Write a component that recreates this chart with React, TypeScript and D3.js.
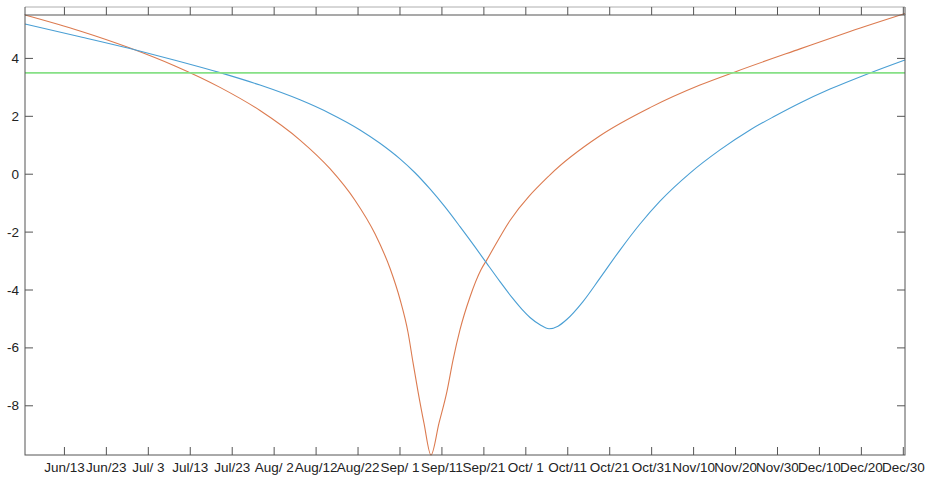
import * as d3 from "d3";

// days counted from Jun/13
const startDate = new Date(2019, 5, 13);
const xDomainDays = [-9.4, 200.4];
const yDomain = [-9.7, 5.5];

const tickLabels = [
  "Jun/13", "Jun/23", "Jul/ 3", "Jul/13", "Jul/23", "Aug/ 2", "Aug/12",
  "Aug/22", "Sep/ 1", "Sep/11", "Sep/21", "Oct/ 1", "Oct/11", "Oct/21",
  "Oct/31", "Nov/10", "Nov/20", "Nov/30", "Dec/10", "Dec/20", "Dec/30",
];
const yTicks = [4, 2, 0, -2, -4, -6, -8];

const blueDays = [
  -9.4, 3.71, 15.63, 26.36, 37.09, 46.63, 56.16, 63.31, 70.47, 75.23, 80.0,
  83.58, 87.15, 90.73, 94.31, 97.88, 100.74, 103.84, 106.94, 109.09, 111.0,
  113.38, 115.53, 117.67, 119.82, 123.63, 127.68, 132.45, 137.22, 141.99,
  149.14, 156.29, 163.45, 169.4, 175.37, 182.52, 192.06, 200.4,
];
const blueValues = [
  5.19, 4.75, 4.34, 3.94, 3.51, 3.08, 2.57, 2.1, 1.53, 1.07, 0.53,
  0.05, -0.51, -1.13, -1.81, -2.51, -3.09, -3.71, -4.3, -4.67, -4.95,
  -5.2, -5.34, -5.25, -5.01, -4.4, -3.59, -2.62, -1.72, -0.93,
  0.04, 0.84, 1.53, 2.01, 2.46, 2.94, 3.5, 3.95,
];

const orangeDays = [
  -9.4, 3.71, 15.63, 26.36, 37.09, 46.63, 56.16, 63.31, 69.27, 74.04, 77.62,
  80.0, 81.91, 83.1, 84.29, 85.72, 87.39, 89.3, 91.2, 92.64, 94.31, 96.69,
  99.31, 100.74, 106.23, 115.77, 127.68, 139.6, 151.52, 160.34, 175.37,
  187.29, 200.4,
];
const orangeValues = [
  5.5, 4.95, 4.36, 3.74, 3.0, 2.2, 1.18, 0.19, -0.9, -2.06, -3.25,
  -4.32, -5.46, -6.5, -7.5, -8.6, -9.7, -8.6, -7.5, -6.42, -5.37, -4.24,
  -3.3, -2.95, -1.6, -0.02, 1.33, 2.3, 3.08, 3.56, 4.33,
  4.93, 5.55,
];

const thresholdValue = 3.5;

const left = 25;
const right = 905;
const top = 15;
const bottom = 455;

const dayToDate = (d: number) => new Date(startDate.getTime() + d * 86400000);

export default function App() {
  const x = d3
    .scaleTime()
    .domain(xDomainDays.map(dayToDate))
    .range([left, right]);
  const y = d3.scaleLinear().domain(yDomain).range([bottom, top]);

  const line = d3
    .line<[number, number]>()
    .x((d) => x(dayToDate(d[0])))
    .y((d) => y(d[1]))
    .curve(d3.curveMonotoneX);

  const blue = line(blueDays.map((d, i) => [d, blueValues[i]]));
  const orange = line(orangeDays.map((d, i) => [d, orangeValues[i]]));

  const xTicks = tickLabels.map((lab, i) => ({
    lab,
    px: x(d3.timeDay.offset(startDate, i * 10)),
  }));

  const axisColor = "#555";
  const font = "'Liberation Sans', Arial, sans-serif";

  return (
    <svg
      width={926}
      height={482}
      style={{ position: "absolute", left: 0, top: 0, background: "#fff" }}
    >
      {/* plotted lines */}
      <path d={orange ?? ""} fill="none" stroke="#dc7b50" strokeWidth={1.1} />
      <path d={blue ?? ""} fill="none" stroke="#4a9fd4" strokeWidth={1.1} />
      <line
        x1={left}
        x2={right}
        y1={y(thresholdValue)}
        y2={y(thresholdValue)}
        stroke="#86e086"
        strokeWidth={1.6}
      />

      {/* box */}
      <line x1={left} x2={right} y1={7} y2={7} stroke="#999" strokeWidth={0.8} />
      <rect
        x={left}
        y={top}
        width={right - left}
        height={bottom - top}
        fill="none"
        stroke={axisColor}
        strokeWidth={1}
      />
      <line x1={left} x2={left} y1={7} y2={top} stroke={axisColor} />
      <line x1={right} x2={right} y1={7} y2={top} stroke={axisColor} />

      {/* x ticks */}
      {xTicks.map((t) => (
        <g key={t.lab}>
          <line x1={t.px} x2={t.px} y1={bottom} y2={bottom - 8} stroke={axisColor} />
          <line x1={t.px} x2={t.px} y1={7} y2={top} stroke={axisColor} />
          <text
            x={t.px}
            y={472}
            textAnchor="middle"
            fontFamily={font}
            fontSize={13.5}
            fill="#222"
          >
            {t.lab}
          </text>
        </g>
      ))}

      {/* y ticks */}
      {yTicks.map((v) => (
        <g key={v}>
          <line x1={left} x2={left + 8} y1={y(v)} y2={y(v)} stroke={axisColor} />
          <line x1={right} x2={right - 8} y1={y(v)} y2={y(v)} stroke={axisColor} />
          <text
            x={19}
            y={y(v) + 4.5}
            textAnchor="end"
            fontFamily={font}
            fontSize={13.5}
            fill="#222"
          >
            {v}
          </text>
        </g>
      ))}
    </svg>
  );
}
